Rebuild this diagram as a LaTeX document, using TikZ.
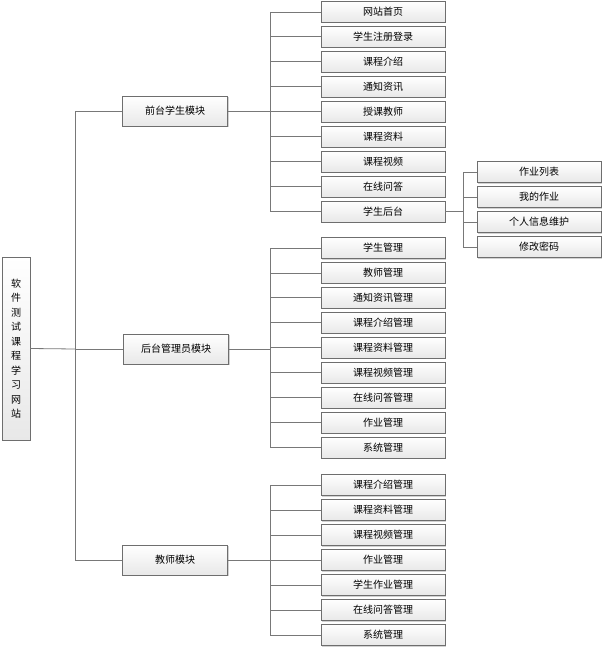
\documentclass[tikz,border=0pt]{standalone}
\usepackage{fontspec}
\usepackage{tikz}
\usetikzlibrary{positioning,shadows,calc}
\newfontfamily\cjk{Noto Sans CJK SC}
\definecolor{boxline}{RGB}{110,110,110}
\definecolor{linkgray}{RGB}{120,120,120}
\definecolor{boxtop}{RGB}{255,255,255}
\definecolor{boxbot}{RGB}{232,232,232}

\begin{document}
\begin{tikzpicture}[
    x=1pt, y=-1pt,
    every node/.style={font=\cjk\fontsize{10}{12}\selectfont},
    item/.style={draw=boxline, top color=boxtop, bottom color=boxbot,
        drop shadow={shadow xshift=1pt, shadow yshift=-1pt, fill=black!35},
        minimum width=124pt, minimum height=21pt, inner sep=0pt},
    module/.style={item, minimum width=105pt, minimum height=30pt},
    link/.style={linkgray, thick}
]
    \useasboundingbox (0,0) rectangle (605,650);

    % Root
    \node[item, minimum width=28pt, minimum height=183pt, align=center,
        font=\cjk\fontsize{10}{14.5}\selectfont] (root) at (16,348.5)
        {软\\件\\测\\试\\课\\程\\学\\习\\网\\站};

    % Modules
    \node[module] (front) at (175,111) {前台学生模块};
    \node[module] (admin) at (176,349) {后台管理员模块};
    \node[module] (teach) at (175,560) {教师模块};

    \coordinate (trunk) at (75,349);
    \draw[link] (root.east) -- (trunk);
    \draw[link] (trunk) |- (front.west);
    \draw[link] (trunk) |- (teach.west);
    \draw[link] (trunk) -- (admin.west);

    % Front items
    \foreach \t [count=\i] in {网站首页,学生注册登录,课程介绍,通知资讯,授课教师,课程资料,课程视频,在线问答,学生后台}
        \node[item] (f\i) at (383,{12+(\i-1)*24.9}) {\t};
    \draw[link] (front.east) -- (270,111);
    \draw[link] (270,12) -- (270,211);
    \foreach \i in {1,...,9}
        \draw[link] (f\i.west) -- ++(-51,0);

    % Student back office
    \foreach \t [count=\i] in {作业列表,我的作业,个人信息维护,修改密码}
        \node[item] (s\i) at (539,{172+(\i-1)*25}) {\t};
    \draw[link] (f9.east) -- ++(18,0);
    \draw[link] (463,172) -- (463,247);
    \foreach \i in {1,...,4}
        \draw[link] (s\i.west) -- ++(-14,0);

    % Admin items
    \foreach \t [count=\i] in {学生管理,教师管理,通知资讯管理,课程介绍管理,课程资料管理,课程视频管理,在线问答管理,作业管理,系统管理}
        \node[item] (a\i) at (383,{248+(\i-1)*24.9}) {\t};
    \draw[link] (admin.east) -- (270,349);
    \draw[link] (270,248) -- (270,447);
    \foreach \i in {1,...,9}
        \draw[link] (a\i.west) -- ++(-51,0);

    % Teacher items
    \foreach \t [count=\i] in {课程介绍管理,课程资料管理,课程视频管理,作业管理,学生作业管理,在线问答管理,系统管理}
        \node[item] (t\i) at (383,{485+(\i-1)*25}) {\t};
    \draw[link] (teach.east) -- (270,560);
    \draw[link] (270,485) -- (270,635);
    \foreach \i in {1,...,7}
        \draw[link] (t\i.west) -- ++(-51,0);

\end{tikzpicture}
\end{document}
